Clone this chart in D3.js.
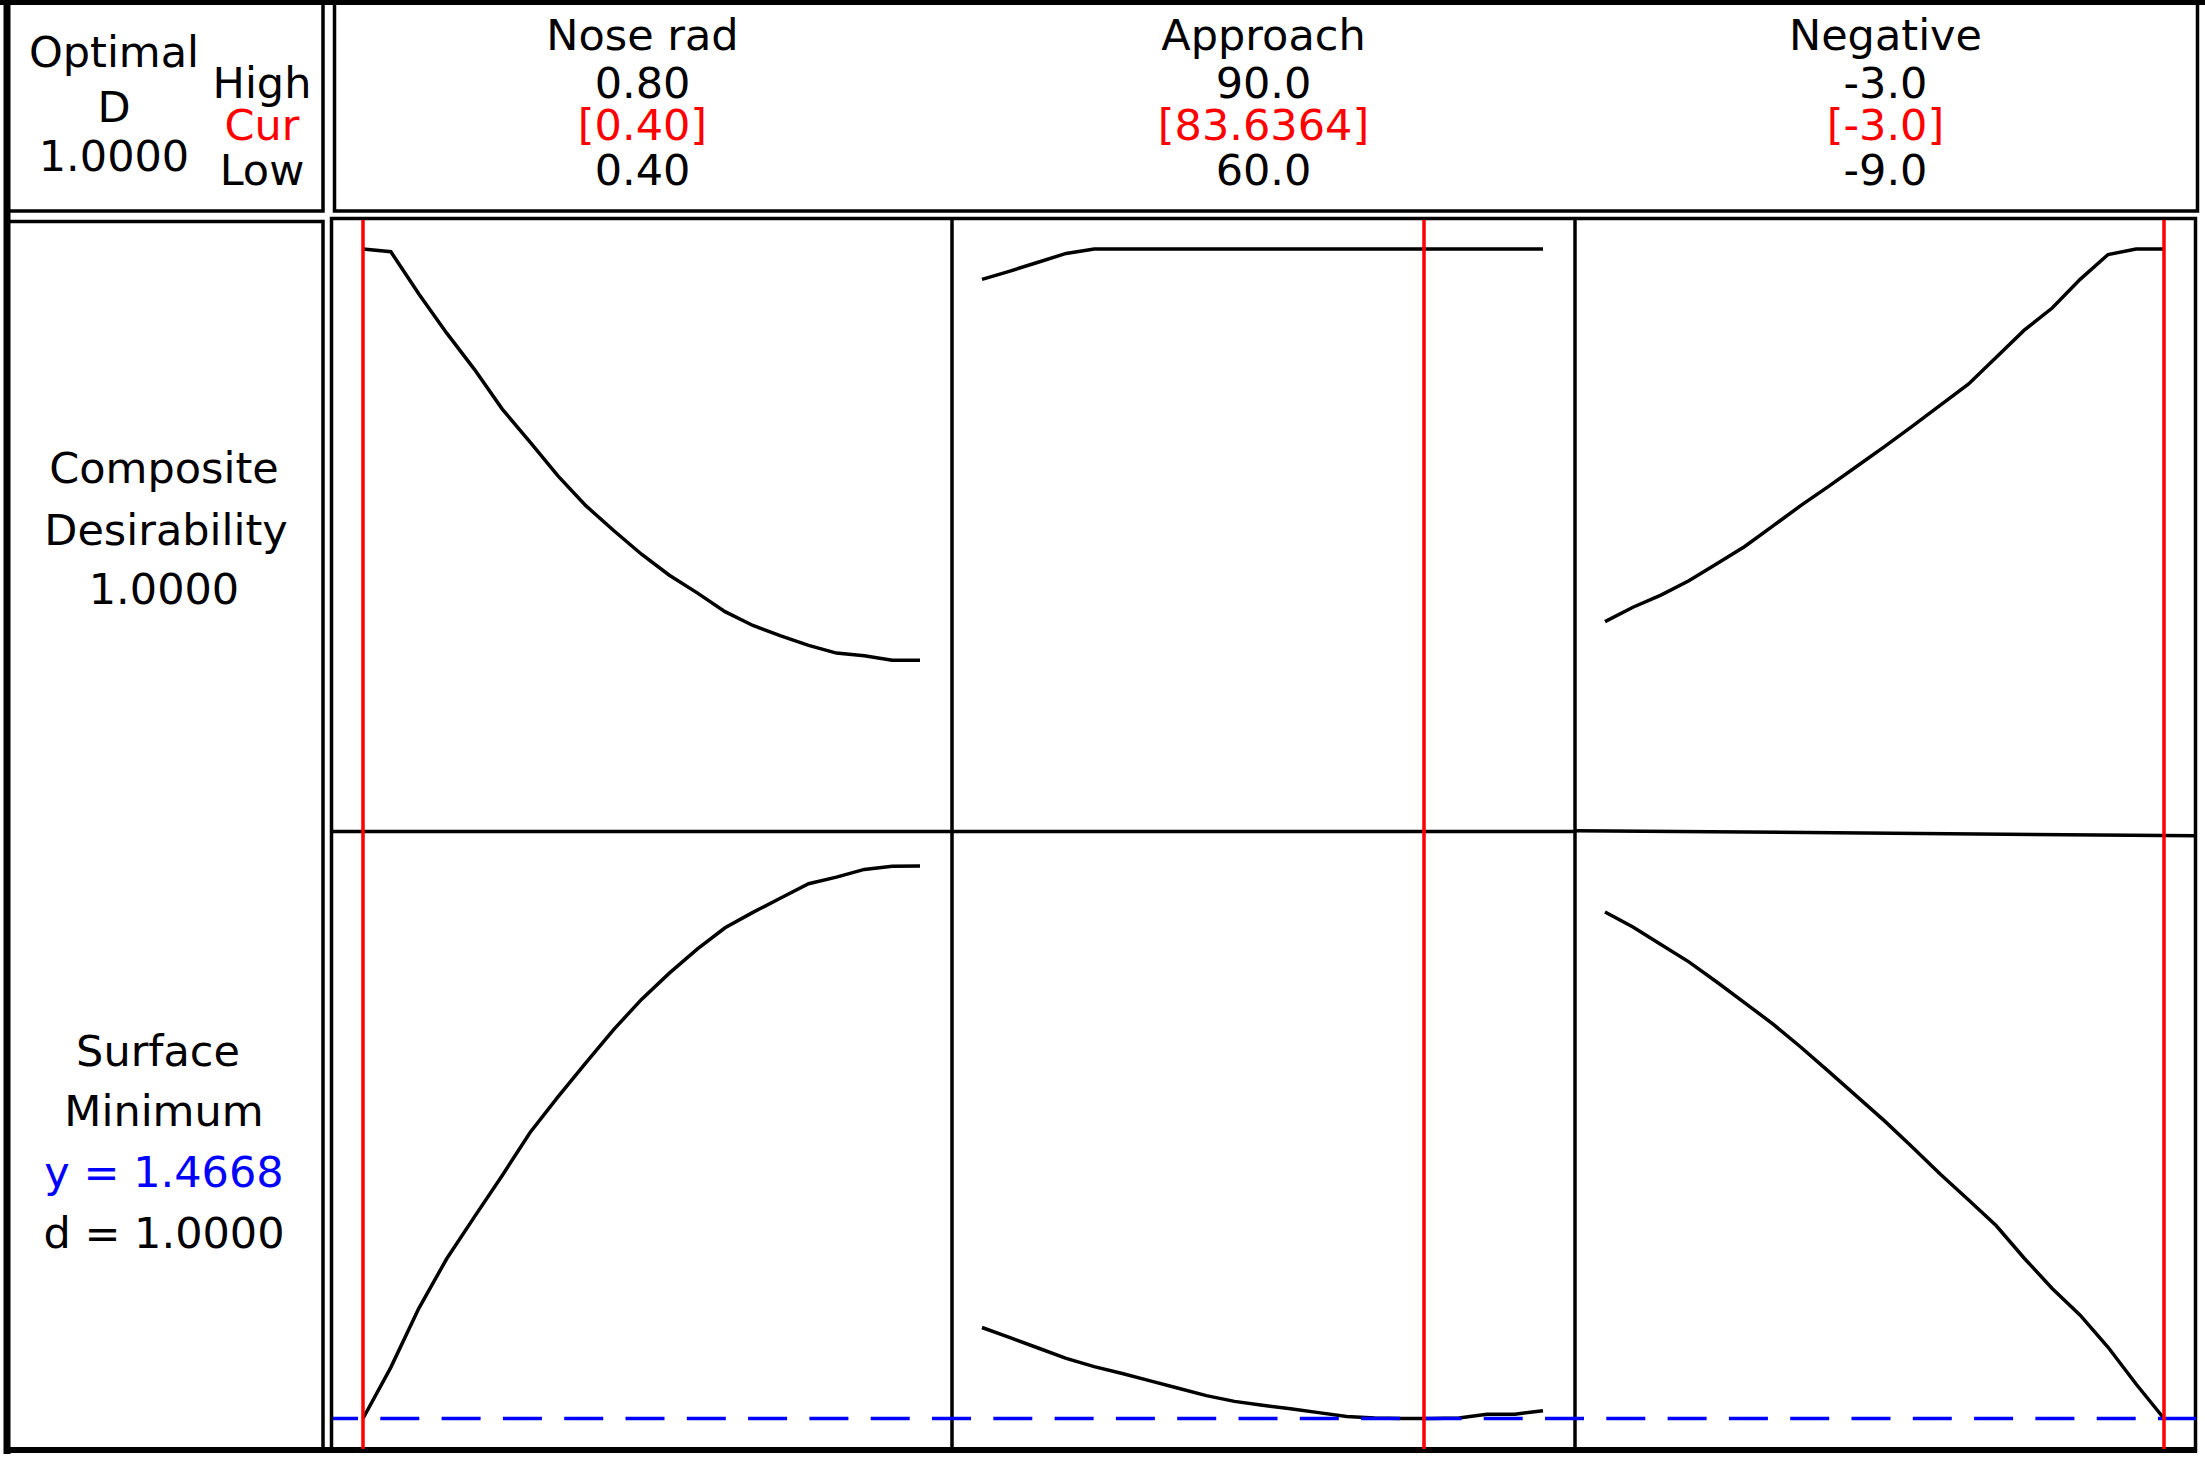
<!DOCTYPE html>
<html><head><meta charset="utf-8">
<script src="https://cdn.jsdelivr.net/npm/d3@7"></script>
<style>
body{margin:0;background:#fff}
svg{display:block}
text{font-family:"DejaVu Sans",Verdana,sans-serif;font-size:43px}
</style>
</head><body>
<svg id="chart" width="2205" height="1459"></svg>
<script>
// ---- data ----
const factors = ["Nose rad", "Approach", "Negative"];
const highLabels = ["0.80", "90.0", "-3.0"];
const curLabels = ["[0.40]", "[83.6364]", "[-3.0]"];
const lowLabels = ["0.40", "60.0", "-9.0"];
const lows = [0.40, 60, -9];
const highs = [0.80, 90, -3];
const current = [0.40, 83.6364, -3.0];

const noseX = [0.40,0.42,0.44,0.46,0.48,0.50,0.52,0.54,0.56,0.58,0.60,0.62,0.64,0.66,0.68,0.70,0.72,0.74,0.76,0.78,0.80];
const approachX = [60,61.5,63,64.5,66,67.5,69,70.5,72,73.5,75,76.5,78,79.5,81,82.5,84,85.5,87,88.5,90];
const negativeX = [-9,-8.7,-8.4,-8.1,-7.8,-7.5,-7.2,-6.9,-6.6,-6.3,-6.0,-5.7,-5.4,-5.1,-4.8,-4.5,-4.2,-3.9,-3.6,-3.3,-3.0];

// composite desirability
const noseD = [1,0.995,0.919,0.848,0.782,0.710,0.650,0.589,0.535,0.490,0.447,0.409,0.377,0.343,0.318,0.299,0.282,0.268,0.263,0.255,0.255];
const approachD = [0.945,0.960,0.976,0.992,1,1,1,1,1,1,1,1,1,1,1,1,1,1,1,1,1];
const negativeD = [0.325,0.351,0.373,0.399,0.430,0.461,0.498,0.535,0.570,0.606,0.642,0.679,0.717,0.755,0.804,0.853,0.893,0.945,0.990,1,1];

// Surface (minimize)
const noseY = [1.4668,1.599,1.751,1.879,1.988,2.095,2.206,2.298,2.386,2.472,2.550,2.618,2.680,2.735,2.775,2.812,2.849,2.866,2.886,2.894,2.895];
const approachY = [1.702,1.676,1.649,1.622,1.601,1.583,1.564,1.545,1.526,1.511,1.501,1.492,1.482,1.472,1.468,1.467,1.467,1.468,1.478,1.478,1.487];
const negativeY = [2.776,2.737,2.692,2.647,2.595,2.541,2.487,2.427,2.364,2.300,2.236,2.168,2.098,2.032,1.965,1.881,1.803,1.734,1.651,1.556,1.4668];

const optimalD = "1.0000";
const surfaceY = 1.4668;
const surfaceDomain = [1.4668, 2.9];

// ---- layout ----
const svg = d3.select("#chart");
const colEdges = [333, 952, 1575, 2196];
const rowTop = 218, rowMid = 832, rowBot = 1451;
const SW = 3.5;
const xs = [0,1,2].map(i => d3.scaleLinear().domain([lows[i], highs[i]]).range([colEdges[i] + 30, colEdges[i+1] - 32]));
const yD = d3.scaleLinear().domain([0, 1]).range([rowMid - 31, rowTop + 31]);
const yS = d3.scaleLinear().domain(surfaceDomain).range([rowBot - 32.5, rowMid + 32]);

const xsData = [noseX, approachX, negativeX];
const dData = [noseD, approachD, negativeD];
const sData = [noseY, approachY, negativeY];

const g = svg.append("g");

// boxes
function box(x, y, w, h) {
  g.append("rect").attr("x", x).attr("y", y).attr("width", w).attr("height", h)
    .attr("fill", "none").attr("stroke", "#000").attr("stroke-width", SW);
}
box(8, 3, 315, 208);
box(334.5, 3, 1863, 208);
box(8, 221.5, 315, 1229);
box(331.5, 218.5, 1864, 1232);

// thick outer edges
g.append("line").attr("x1", 0).attr("x2", 2205).attr("y1", 2.5).attr("y2", 2.5).attr("stroke", "#000").attr("stroke-width", 5);
g.append("line").attr("x1", 7).attr("x2", 7).attr("y1", 0).attr("y2", 1454).attr("stroke", "#000").attr("stroke-width", 7);
g.append("line").attr("x1", 4).attr("x2", 2197).attr("y1", 1450).attr("y2", 1450).attr("stroke", "#000").attr("stroke-width", 6);

// column dividers
[colEdges[1], colEdges[2]].forEach(x => {
  g.append("line").attr("x1", x).attr("x2", x).attr("y1", rowTop).attr("y2", rowBot)
    .attr("stroke", "#000").attr("stroke-width", SW);
});
// row divider
g.append("line").attr("x1", colEdges[0]).attr("x2", colEdges[2]).attr("y1", 831.5).attr("y2", 831.5)
  .attr("stroke", "#000").attr("stroke-width", SW);
g.append("line").attr("x1", colEdges[2]).attr("x2", colEdges[3]).attr("y1", 830.7).attr("y2", 835.7)
  .attr("stroke", "#000").attr("stroke-width", SW);

// curves
for (let i = 0; i < 3; i++) {
  const x = xs[i];
  const top = xsData[i].map((v, k) => [v, dData[i][k]]);
  const bot = xsData[i].map((v, k) => [v, sData[i][k]]);
  g.append("path").datum(top)
    .attr("d", d3.line().x(d => x(d[0])).y(d => yD(d[1])))
    .attr("fill", "none").attr("stroke", "#000").attr("stroke-width", SW);
  g.append("path").datum(bot)
    .attr("d", d3.line().x(d => x(d[0])).y(d => yS(d[1])))
    .attr("fill", "none").attr("stroke", "#000").attr("stroke-width", SW);
}

// blue dashed optimum line
g.append("line").attr("x1", colEdges[0]).attr("x2", colEdges[3])
  .attr("y1", yS(surfaceY)).attr("y2", yS(surfaceY))
  .attr("stroke", "#0000ff").attr("stroke-width", SW)
  .attr("stroke-dasharray", "39,22.3").attr("stroke-dashoffset", 14);

// red current lines
for (let i = 0; i < 3; i++) {
  const cx = xs[i](current[i]);
  g.append("line").attr("x1", cx).attr("x2", cx).attr("y1", rowTop + 2).attr("y2", rowBot - 2)
    .attr("stroke", "#ff0000").attr("stroke-width", SW);
}

// text
function txt(s, x, y, color, anchor) {
  g.append("text").attr("x", x).attr("y", y).attr("fill", color || "#000")
    .attr("text-anchor", anchor || "middle").text(s);
}
// header
for (let i = 0; i < 3; i++) {
  const cx = (colEdges[i] + colEdges[i+1]) / 2;
  txt(factors[i], cx, 50);
  txt(highLabels[i], cx, 98);
  txt(curLabels[i], cx, 140, "#ff0000");
  txt(lowLabels[i], cx, 185);
}
txt("Optimal", 114, 67);
txt("D", 114, 122);
txt(optimalD, 114, 171);
txt("High", 262, 98);
txt("Cur", 262, 140, "#ff0000");
txt("Low", 262, 185);

txt("Composite", 164, 483);
txt("Desirability", 166, 545);
txt(optimalD, 164, 604);

txt("Surface", 158, 1066);
txt("Minimum", 164, 1126);
txt("y = " + surfaceY.toFixed(4), 164, 1187, "#0000ff");
txt("d = " + optimalD, 164, 1248);
</script>
</body></html>
